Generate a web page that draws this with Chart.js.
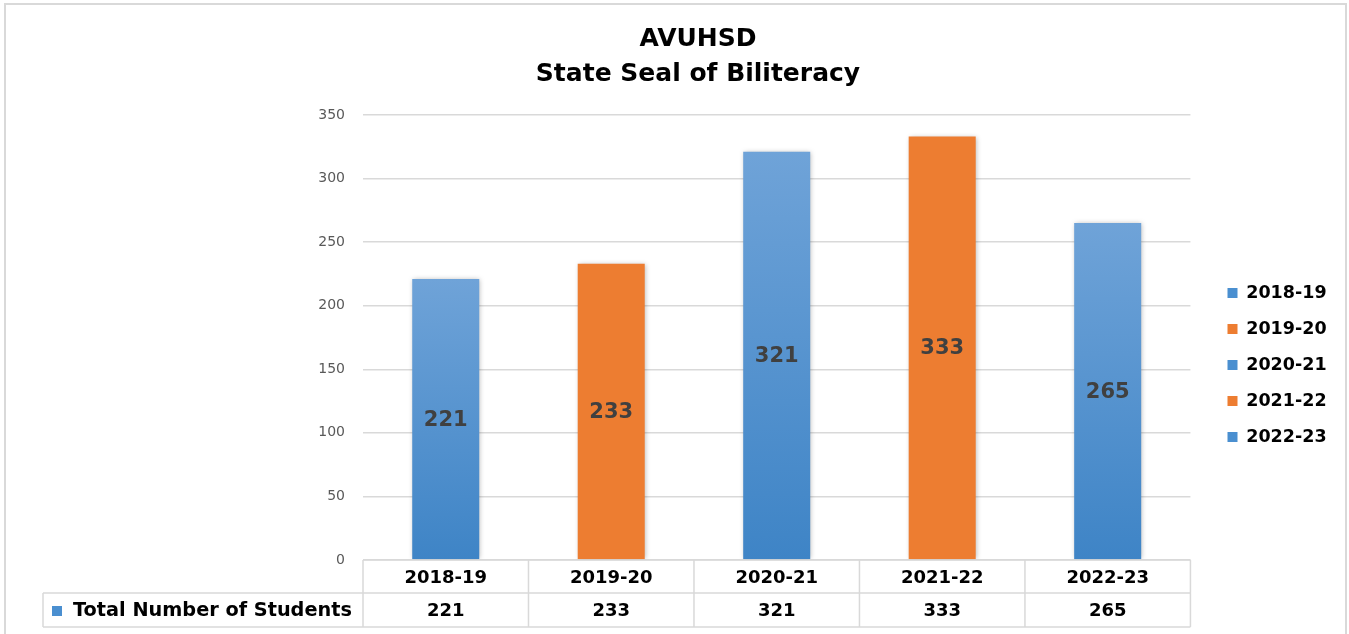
<!DOCTYPE html>
<html><head><meta charset="utf-8">
<script src="https://cdn.jsdelivr.net/npm/chart.js@4/dist/chart.umd.min.js"></script>
<style>html,body{margin:0;padding:0;background:#fff}canvas{display:block}</style>
</head><body>
<canvas id="c" width="1349" height="634"></canvas>
<script>
const categories = ['2018-19', '2019-20', '2020-21', '2021-22', '2022-23'];
const values = [221, 233, 321, 333, 265];
const seriesName = 'Total Number of Students';
const titleLines = ['AVUHSD', 'State Seal of Biliteracy'];
const yTickValues = [0, 50, 100, 150, 200, 250, 300, 350];
const barKinds = ['blue', 'orange', 'blue', 'orange', 'blue'];

const FONT = '"DejaVu Sans", sans-serif';
const BLUE_TOP = '#6FA3D8', BLUE_BOT = '#3E84C6', BLUE = '#4A8FD0', ORANGE = '#ED7D31';
const GRID = '#D9D9D9';

function barFill(c) {
  const i = c.dataIndex;
  if (barKinds[i] === 'orange') return ORANGE;
  const ch = c.chart, y = ch.scales && ch.scales.y;
  if (!ch.chartArea || !y) return BLUE;
  const top = y.getPixelForValue(values[i]), bot = y.getPixelForValue(0);
  if (!isFinite(top) || !isFinite(bot)) return BLUE;
  const g = ch.ctx.createLinearGradient(0, top, 0, bot);
  g.addColorStop(0, BLUE_TOP); g.addColorStop(1, BLUE_BOT);
  return g;
}

const framePlugin = {
  id: 'frame',
  beforeDraw(chart) {
    const ctx = chart.ctx;
    ctx.save();
    ctx.fillStyle = '#fff';
    ctx.fillRect(0, 0, chart.width, chart.height);
    ctx.strokeStyle = GRID; ctx.lineWidth = 2;
    ctx.strokeRect(5, 4, chart.width - 8, chart.height + 20);
    ctx.restore();
  }
};

const boxShift = {
  id: 'boxShift',
  afterLayout(chart) {
    const lg = chart.legend;
    if (lg) {
      const d = 1228 - 19 - lg.left;
      lg.left += d; lg.right += d;
      lg.top += 48; lg.bottom += 48;
    }
    const t = chart.titleBlock;
    if (t) { t.left += 39; t.right += 39; }
  }
};

const shadowPlugin = {
  id: 'barShadow',
  beforeDatasetDraw(chart) {
    const ctx = chart.ctx;
    ctx.save();
    ctx.shadowColor = 'rgba(0,0,0,0.28)';
    ctx.shadowBlur = 5; ctx.shadowOffsetX = 1; ctx.shadowOffsetY = 0;
  },
  afterDatasetDraw(chart) { chart.ctx.restore(); }
};

const labelPlugin = {
  id: 'barLabels',
  afterDatasetsDraw(chart) {
    const ctx = chart.ctx;
    const meta = chart.getDatasetMeta(0);
    ctx.save();
    ctx.font = 'bold 21px ' + FONT;
    ctx.fillStyle = '#404040';
    ctx.textAlign = 'center'; ctx.textBaseline = 'middle';
    meta.data.forEach((bar, i) => {
      ctx.fillText(String(values[i]), bar.x, (bar.y + bar.base) / 2 + 1);
    });
    ctx.restore();
  }
};

const tablePlugin = {
  id: 'dataTable',
  afterDraw(chart) {
    const ctx = chart.ctx, a = chart.chartArea, xs = chart.scales.x;
    const n = categories.length;
    const top = a.bottom, mid = top + 33, bot = top + 67, left = 43;
    const colW = (a.right - a.left) / n;
    ctx.save();
    ctx.strokeStyle = GRID; ctx.lineWidth = 1.5;
    ctx.beginPath();
    ctx.moveTo(a.left, top); ctx.lineTo(a.right, top);
    ctx.moveTo(left, mid); ctx.lineTo(a.right, mid);
    ctx.moveTo(left, bot); ctx.lineTo(a.right, bot);
    for (let i = 0; i <= n; i++) {
      const xb = a.left + i * colW;
      ctx.moveTo(xb, top); ctx.lineTo(xb, bot);
    }
    ctx.moveTo(left, mid); ctx.lineTo(left, bot);
    ctx.stroke();
    ctx.fillStyle = '#000';
    ctx.font = 'bold 18px ' + FONT;
    ctx.textAlign = 'center'; ctx.textBaseline = 'middle';
    const ry = (mid + bot) / 2 + 1;
    values.forEach((v, i) => ctx.fillText(String(v), xs.getPixelForValue(i), ry));
    ctx.fillStyle = BLUE;
    ctx.fillRect(left + 9, ry - 5, 10, 10);
    ctx.fillStyle = '#000';
    ctx.textAlign = 'left';
    ctx.font = 'bold 19.3px ' + FONT;
    ctx.fillText(seriesName, left + 30, ry);
    ctx.restore();
  }
};

new Chart(document.getElementById('c'), {
  type: 'bar',
  data: {
    labels: categories,
    datasets: [{
      label: seriesName,
      data: values,
      backgroundColor: barFill,
      borderWidth: 0,
      categoryPercentage: 1,
      barPercentage: 0.405
    }]
  },
  options: {
    responsive: false,
    devicePixelRatio: 1,
    animation: false,
    layout: { padding: { top: 0, right: 31, bottom: 0, left: 0 } },
    scales: {
      x: {
        grid: { display: false },
        border: { display: false },
        ticks: { color: '#000', font: { family: FONT, size: 18, weight: 'bold' }, padding: 0, maxRotation: 0 },
        afterFit(s) { s.height = 74; }
      },
      y: {
        min: 0, max: 350,
        afterBuildTicks(s) { s.ticks = yTickValues.map(v => ({ value: v })); },
        grid: { color: GRID, lineWidth: 1.5, drawTicks: false },
        border: { display: false },
        ticks: { color: '#595959', font: { family: FONT, size: 14 }, padding: 18 },
        afterFit(s) { s.width = 363; }
      }
    },
    plugins: {
      title: {
        display: true,
        text: titleLines,
        color: '#000',
        font: { family: FONT, size: 25, weight: 'bold', lineHeight: 1.4 },
        padding: { top: 22, bottom: 23 }
      },
      legend: {
        position: 'right',
        labels: {
          color: '#000',
          font: { family: FONT, size: 17.5, weight: 'bold' },
          boxWidth: 10, boxHeight: 10, padding: 18.5,
          generateLabels() {
            return categories.map((c, i) => ({
              text: c,
              fillStyle: barKinds[i] === 'orange' ? ORANGE : BLUE,
              strokeStyle: 'rgba(0,0,0,0)',
              lineWidth: 0,
              hidden: false,
              index: i,
              datasetIndex: 0
            }));
          }
        }
      },
      tooltip: { enabled: false }
    }
  },
  plugins: [framePlugin, boxShift, shadowPlugin, labelPlugin, tablePlugin]
});
</script>
</body></html>
